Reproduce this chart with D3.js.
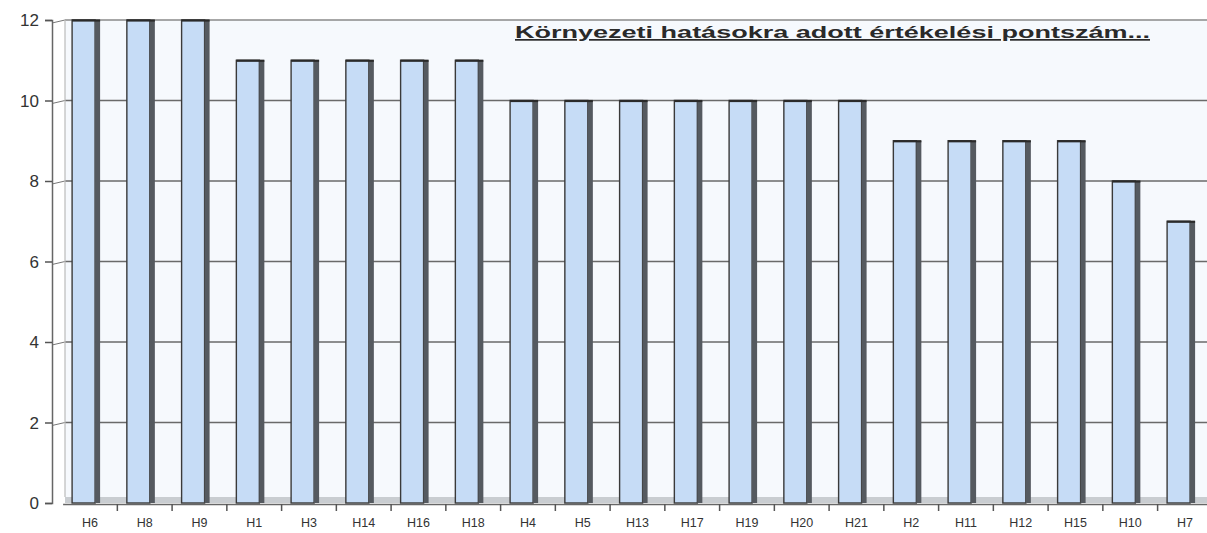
<!DOCTYPE html>
<html><head><meta charset="utf-8">
<script src="https://cdn.jsdelivr.net/npm/d3@7"></script>
<style>body{margin:0;background:#fff}svg{display:block}</style>
</head><body>
<svg id="c" width="1207" height="533"></svg>
<script>
const categories = ["H6","H8","H9","H1","H3","H14","H16","H18","H4","H5","H13","H17","H19","H20","H21","H2","H11","H12","H15","H10","H7"];
const values = [12,12,12,11,11,11,11,11,10,10,10,10,10,10,10,9,9,9,9,8,7];
const yTicks = [0,2,4,6,8,10,12];
const title = "Környezeti hatásokra adott értékelési pontszám...";

const svg = d3.select("#c");
const x = d3.scaleBand().domain(categories).range([62.6, 62.6 + 21*54.75]).padding(0);
const y = d3.scaleLinear().domain([0,12]).range([503, 20]);
const wallX = 65, axisX = 52;

// back wall
svg.append("rect").attr("x", wallX).attr("y", y(12)).attr("width", 1207-wallX).attr("height", y(0)-y(12)).attr("fill", "#f6f9fd");
// floor band
svg.append("rect").attr("x", wallX).attr("y", y(0)-6).attr("width", 1207-wallX).attr("height", 6).attr("fill", "#c9cdd1");

// gridlines
svg.append("g").selectAll("line").data(yTicks.filter(d=>d>0)).join("line")
  .attr("x1", wallX).attr("x2", 1207).attr("y1", d=>y(d)).attr("y2", d=>y(d))
  .attr("stroke", d=> d===12 ? "#8a8a8a" : "#6a6a6a").attr("stroke-width", 1.6);
// diagonals from axis to wall
svg.append("g").selectAll("line").data(yTicks.filter(d=>d>0)).join("line")
  .attr("x1", axisX).attr("x2", wallX).attr("y1", d=>y(d)+3).attr("y2", d=>y(d))
  .attr("stroke", "#777").attr("stroke-width", 1);
// back wall line
svg.append("line").attr("x1", wallX).attr("x2", wallX).attr("y1", y(12)).attr("y2", y(0)-6).attr("stroke", "#bbb").attr("stroke-width", 1.2);

// y axis
const yAxis = d3.axisLeft(y).tickValues(yTicks).tickSize(7).tickPadding(6);
const gy = svg.append("g").attr("transform", `translate(${axisX},0)`).call(yAxis);
gy.select(".domain").attr("stroke", "#666").attr("stroke-width", 1.5);
gy.selectAll(".tick line").attr("stroke", "#555").attr("stroke-width", 1.5);
gy.selectAll(".tick text").attr("font-family", "Liberation Sans, Arial, sans-serif").attr("font-size", 17).attr("fill", "#333").attr("dy", "0.35em");

// x axis
const xAxis = d3.axisBottom(x).tickSize(0).tickPadding(0);
const gx = svg.append("g").attr("transform", `translate(0,${y(0)+1})`).call(xAxis);
gx.select(".domain").attr("stroke", "#666").attr("stroke-width", 1.5);
gx.selectAll(".tick text").attr("font-family", "Liberation Sans, Arial, sans-serif").attr("font-size", 12.5).attr("fill", "#333").attr("y", 14).attr("dy", "0.71em");
// boundary ticks
svg.append("g").selectAll("line").data(categories.slice(1)).join("line")
  .attr("x1", d=>x(d)).attr("x2", d=>x(d)).attr("y1", y(0)+1).attr("y2", y(0)+8)
  .attr("stroke", "#555").attr("stroke-width", 1.5);

// bars
const bw = 23, side = 5, off = 9.5;
const bars = svg.append("g").selectAll("g").data(categories).join("g");
bars.append("rect")
  .attr("x", d=>x(d)+off).attr("y", (d,i)=>y(values[i]))
  .attr("width", bw).attr("height", (d,i)=>y(0)-y(values[i]))
  .attr("fill", "#c6dcf6").attr("stroke", "#3a3a3a").attr("stroke-width", 1.4);
bars.append("rect")
  .attr("x", d=>x(d)+off+bw).attr("y", (d,i)=>y(values[i]))
  .attr("width", side).attr("height", (d,i)=>y(0)-y(values[i]))
  .attr("fill", "#555a60");
bars.append("line")
  .attr("x1", d=>x(d)+off).attr("x2", d=>x(d)+off+bw+side)
  .attr("y1", (d,i)=>y(values[i])+0.5).attr("y2", (d,i)=>y(values[i])+0.5)
  .attr("stroke", "#2a2a2a").attr("stroke-width", 2.2);

// title
svg.append("text").attr("x", 515).attr("y", 38)
  .attr("font-family", "Liberation Sans, Arial, sans-serif").attr("font-size", 17).attr("font-weight", "bold")
  .attr("fill", "#2a2a2a").attr("text-decoration", "underline")
  .attr("textLength", 635).attr("lengthAdjust", "spacingAndGlyphs")
  .text(title);
</script>
</body></html>
